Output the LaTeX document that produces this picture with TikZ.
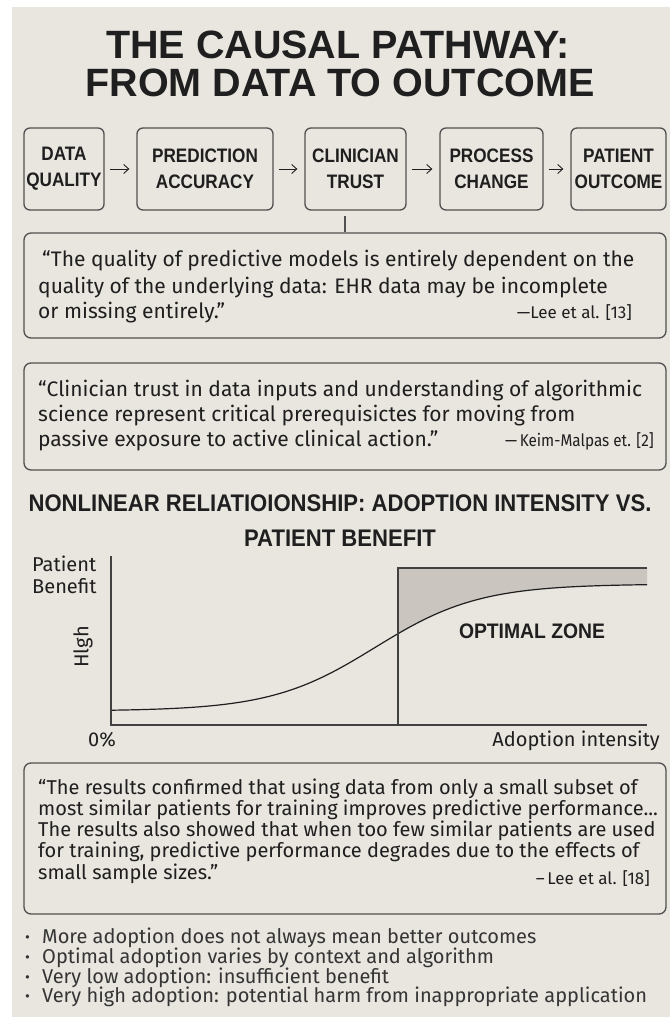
\documentclass[tikz,border=0pt]{standalone}
\usepackage{fontspec}
\setmainfont{Fira Sans}
\newfontfamily\headfont{Liberation Sans}
\newfontfamily\narrowhead[FakeStretch=0.92]{Liberation Sans}
\newfontfamily\boxfont[FakeStretch=0.88]{Liberation Sans}
\usetikzlibrary{arrows.meta}
\definecolor{paper}{HTML}{E9E5DF}
\definecolor{ink}{HTML}{1F1F1F}
\definecolor{rule}{HTML}{505050}
\definecolor{shadegray}{HTML}{CAC5BF}

\begin{document}
\begin{tikzpicture}[x=1pt,y=-1pt,
  flowbox/.style={draw=rule, line width=1.3pt, rounded corners=6pt, fill=paper,
    align=center, text=ink, inner sep=0pt, minimum height=82pt,
    font=\boxfont\bfseries\fontsize{19.5}{26}\selectfont},
  flowarrow/.style={draw=ink, line width=0.9pt, shorten <=5pt, shorten >=7pt,
    -{Straight Barb[length=5pt,width=9pt]}},
  quotebox/.style={draw=rule, line width=1.3pt, rounded corners=7pt,
    minimum width=642pt, inner sep=0pt},
  qtext/.style={anchor=base west, inner sep=0pt, text=ink,
    font=\fontsize{21}{25}\selectfont},
  qsmall/.style={qtext, font=\fontsize{20}{24}\selectfont},
  cite/.style={anchor=base east, inner sep=0pt, text=ink,
    font=\fontsize{17}{20}\selectfont},
  heading/.style={anchor=base, inner sep=0pt, text=ink,
    font=\narrowhead\bfseries\fontsize{24}{28}\selectfont},
  axisline/.style={draw=ink!85, line width=1.2pt},
  curveline/.style={draw=ink, line width=1.2pt},
  chartlabel/.style={inner sep=0pt, text=ink, font=\fontsize{20}{24}\selectfont},
  bullet/.style={anchor=base west, inner sep=0pt, text=ink!90,
    font=\fontsize{20}{24}\selectfont},
]
\newcommand\dotmark{\makebox[18pt][l]{\hspace{1pt}\raisebox{0.5pt}{\fontsize{15}{15}\selectfont •}}}
\useasboundingbox (0,0) rectangle (670,1017);
\fill[white] (0,0) rectangle (670,1017);
\fill[paper] (12,7) rectangle (670,1017);

% title
\node[anchor=base, inner sep=0pt, text=ink, font=\headfont\bfseries\fontsize{39.5}{44}\selectfont]
  (title1) at (338,58) {THE CAUSAL PATHWAY:};
\node[anchor=base, inner sep=0pt, text=ink, font=\headfont\bfseries\fontsize{39.5}{44}\selectfont]
  (title2) at (340,96) {FROM DATA TO OUTCOME};

% causal chain
\node[flowbox, minimum width=80pt]  (dq) at (64,169)    {DATA\\QUALITY};
\node[flowbox, minimum width=136pt] (pa) at (205,169)   {PREDICTION\\ACCURACY};
\node[flowbox, minimum width=101pt] (ct) at (355.5,169) {CLINICIAN\\TRUST};
\node[flowbox, minimum width=103pt] (pc) at (491.5,169) {PROCESS\\CHANGE};
\node[flowbox, minimum width=95pt]  (po) at (618.5,169) {PATIENT\\OUTCOME};
\draw[flowarrow] (dq) -- (pa);
\draw[flowarrow] (pa) -- (ct);
\draw[flowarrow] (ct) -- (pc);
\draw[flowarrow] (pc) -- (po);

% first quotation
\node[quotebox, minimum height=105pt] (q1) at (345,285.5) {};
\coordinate (tap) at (345,216);
\draw[rule, line width=1.2pt] (tap) -- (tap |- q1.north);
\node[qtext] (q1a) at (42,266) {“The quality of predictive models is entirely dependent on the};
\node[qtext] (q1b) at (38,293) {quality of the underlying data: EHR data may be incomplete};
\node[qtext] (q1c) at (38,318) {or missing entirely.”};
\node[cite]  (q1s) at (632,318) {—Lee et al. [13]};

% second quotation
\node[quotebox, minimum height=107pt] (q2) at (345,416.5) {};
\node[qtext] (q2a) at (38,396) {“Clinician trust in data inputs and understanding of algorithmic};
\node[qtext] (q2b) at (38,421) {science represent critical prerequisictes for moving from};
\node[qtext] (q2c) at (38,446) {passive exposure to active clinical action.”};
\node[cite]  (q2s) at (654,446) {\scalebox{0.9}[1]{—\,Keim-Malpas et. [2]}};

% chart heading
\node[heading] (h1) at (340,511) {NONLINEAR RELIATIOIONSHIP: ADOPTION INTENSITY VS.};
\node[heading] (h2) at (340,546) {PATIENT BENEFIT};

% chart
\coordinate (O) at (111,725);
\coordinate (Ytop) at (111,556);
\coordinate (Xend) at (647,725);
\coordinate (Zb) at (398,725);
\coordinate (Zt) at (398,568);
\coordinate (Zr) at (647,568);
\fill[shadegray] (Zt) -- (Zr)
  -- plot[domain=647:398, samples=60] (\x,{711-127/(1+exp(-(\x-375)/52))}) -- cycle;
\draw[curveline] plot[domain=111:647, samples=140] (\x,{711-127/(1+exp(-(\x-375)/52))});
\draw[axisline] (Ytop) -- (O) -- (Xend);
\draw[axisline] (Zb) -- (Zt) -- (Zr);
\node[chartlabel, anchor=base west] (yl1) at (32,571) {Patient};
\node[chartlabel, anchor=base west] (yl2) at (32,593) {Benefit};
\node[chartlabel, rotate=90] (yhi) at (83,647) {Hlgh};
\node[chartlabel, anchor=base] (x0) at (102,746) {0\%};
\node[chartlabel, anchor=base east] (xl) at (660,746) {Adoption intensity};
\node[inner sep=0pt, text=ink, font=\narrowhead\bfseries\fontsize{21}{24}\selectfont]
  (zone) at (532,631) {OPTIMAL ZONE};

% third quotation
\node[quotebox, minimum height=151pt] (q3) at (345,838.5) {};
\node[qsmall] (q3a) at (38,794) {“The results confirmed that using data from only a small subset of};
\node[qsmall] (q3b) at (38,815) {most similar patients for training improves predictive performance...};
\node[qsmall] (q3c) at (38,836) {The results also showed that when too few similar patients are used};
\node[qsmall] (q3d) at (38,857) {for training, predictive performance degrades due to the effects of};
\node[qsmall] (q3e) at (38,879) {small sample sizes.”};
\node[cite]  (q3s) at (650,884) {–\,Lee et al. [18]};

% takeaways
\node[bullet] (b1) at (24,943)  {\dotmark More adoption does not always mean better outcomes};
\node[bullet] (b2) at (24,963)  {\dotmark Optimal adoption varies by context and algorithm};
\node[bullet] (b3) at (24,983)  {\dotmark Very low adoption: insufficient benefit};
\node[bullet] (b4) at (24,1002) {\dotmark Very high adoption: potential harm from inappropriate application};
\end{tikzpicture}
\end{document}
